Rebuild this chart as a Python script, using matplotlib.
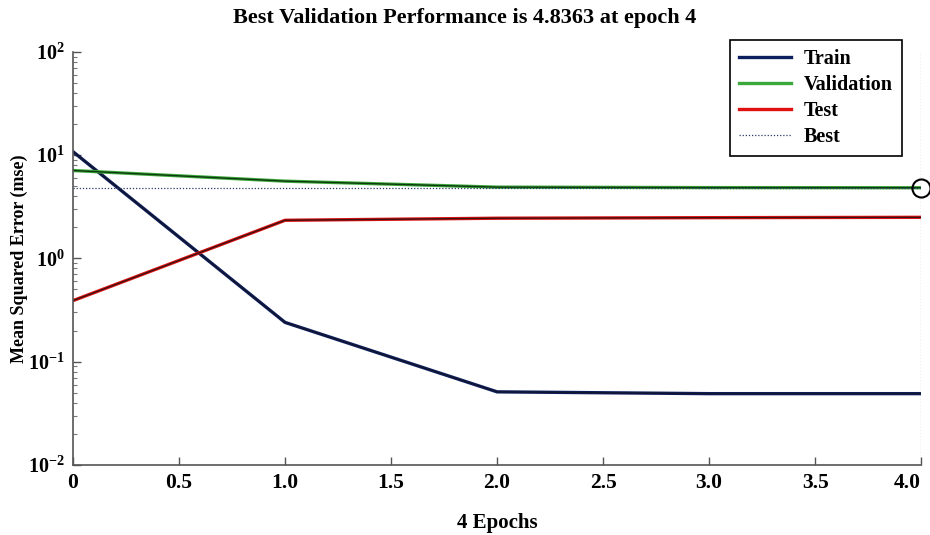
import matplotlib
matplotlib.use("Agg")
import matplotlib.pyplot as plt
import numpy as np

# values (log scale)
epochs = [0, 1, 2, 3, 4]
train = [10.8, 0.24, 0.051, 0.049, 0.049]
validation = [7.1, 5.6, 4.9, 4.85, 4.8363]
test = [0.39, 2.34, 2.45, 2.48, 2.5]
best_epoch = 4
best_perf = 4.8363
xticks = [0, 0.5, 1.0, 1.5, 2.0, 2.5, 3.0, 3.5, 4.0]
xticklabels = ["0", "0.5", "1.0", "1.5", "2.0", "2.5", "3.0", "3.5", "4.0"]

plt.rcParams['font.family'] = ['Liberation Serif', 'DejaVu Serif']
plt.rcParams['font.weight'] = 'bold'
plt.rcParams['mathtext.fontset'] = 'custom'
plt.rcParams['mathtext.rm'] = 'Liberation Serif:bold'
plt.rcParams['mathtext.it'] = 'Liberation Serif:bold'
plt.rcParams['mathtext.bf'] = 'Liberation Serif:bold'

fig = plt.figure(figsize=(9.3, 5.35), dpi=100)
ax = fig.add_axes([0.0785, 0.131, 0.912, 0.772])

# colored lines with a dark core, like the reference
ax.plot(epochs, train, color='#0b1f5c', lw=2.4, label='Train')
ax.plot(epochs, train, color='#14142e', lw=1.0)
ax.plot(epochs, validation, color='#3aa83a', lw=2.4, label='Validation')
ax.plot(epochs, validation, color='#0f3a0f', lw=1.0)
ax.plot(epochs, test, color='#e01010', lw=2.4, label='Test')
ax.plot(epochs, test, color='#3a1212', lw=1.0)
ax.axhline(best_perf, color='#2b3a6b', lw=0.9, ls=(0, (1, 1.5)), label='Best')
ax.axvline(best_epoch, color='#888888', lw=0.9, ls=(0, (1, 1.5)))
ax.plot([best_epoch], [best_perf], 'o', ms=13, mfc='none', mec='black', mew=1.5, clip_on=False)

ax.set_yscale('log')
ax.set_ylim(1e-2, 1e2)
ax.set_xlim(0, 4)
ax.set_xticks(xticks)
ax.set_xticklabels(xticklabels)
ax.set_yticks([1e-2, 1e-1, 1e0, 1e1, 1e2])

for s in ['top', 'right']:
    ax.spines[s].set_visible(False)
for s in ['left', 'bottom']:
    ax.spines[s].set_color('#555555')
    ax.spines[s].set_linewidth(1.2)

ax.tick_params(axis='both', which='major', direction='in', length=6, width=1, colors='#555555',
               labelcolor='black', labelsize=15.5, pad=6)
ax.tick_params(axis='y', which='major', labelsize=14.5)
ax.tick_params(axis='y', which='minor', direction='in', length=3, width=0.8, colors='#777777')
for lbl in ax.get_xticklabels() + ax.get_yticklabels():
    lbl.set_fontweight('bold')
ax.get_xticklabels()[-1].set_horizontalalignment('right')

ax.set_xlabel('4 Epochs', fontsize=15, fontweight='bold', labelpad=14)
ax.set_ylabel('Mean Squared Error (mse)', fontsize=13, fontweight='bold')
ax.yaxis.set_label_coords(-0.053, 0.5)
fig.suptitle('Best Validation Performance is 4.8363 at epoch 4', fontsize=16, fontweight='bold', y=0.985)

leg = ax.legend(loc='upper left', bbox_to_anchor=(0.785, 0.926), bbox_transform=fig.transFigure,
                fancybox=False, framealpha=1, edgecolor='black', fontsize=14.5,
                handlelength=2.6, borderpad=0.45, labelspacing=0.3, handletextpad=0.6,
                borderaxespad=0)
leg.get_frame().set_linewidth(1.2)
for t in leg.get_texts():
    t.set_fontweight('bold')

fig.savefig('out.png', dpi=100)
